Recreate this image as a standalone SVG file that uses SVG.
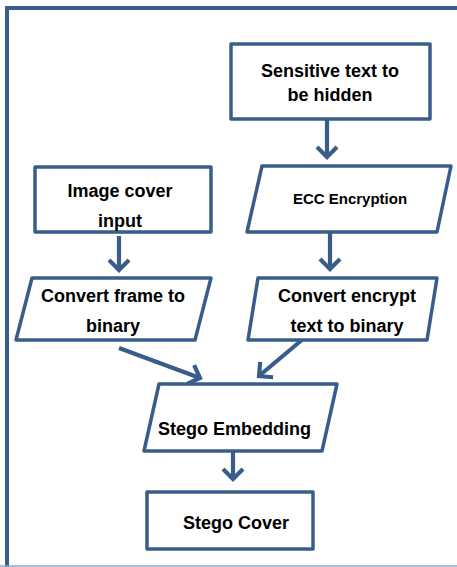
<svg xmlns="http://www.w3.org/2000/svg" width="457" height="567" viewBox="0 0 457 567">
<defs>
<style>
.box{fill:#fff;stroke:#385D8A;stroke-width:3.5;stroke-linejoin:round}
.t{font-family:"Liberation Sans",Arial,sans-serif;font-weight:bold;font-size:18px;fill:#000;text-anchor:middle}
.s{font-size:15px}
.c{fill:none;stroke:#385D8A;stroke-width:4.2;marker-end:url(#ah)}
</style>
<marker id="ah" viewBox="-14 -13 17 26" refX="0" refY="0" markerWidth="17" markerHeight="26" markerUnits="userSpaceOnUse" orient="auto">
<path d="M-10,-10 L0,0 L-10,10" fill="none" stroke="#385D8A" stroke-width="4.2"/>
</marker>
</defs>
<rect width="457" height="567" fill="#fff"/>
<g id="frame">
<path d="M7,567 V8 H460" fill="none" stroke="#385D8A" stroke-width="4"/>
<line x1="0" y1="566" x2="457" y2="566" stroke="#8EA9CC" stroke-width="1.5"/>
</g>
<g id="connectors">
<line class="c" x1="327" y1="120" x2="327" y2="157"/>
<line class="c" x1="330" y1="232" x2="330" y2="269"/>
<line class="c" x1="119" y1="236" x2="119" y2="270"/>
<line class="c" x1="119" y1="348" x2="200" y2="378"/>
<line class="c" x1="303" y1="339" x2="259" y2="376"/>
<line class="c" x1="233" y1="451" x2="233" y2="479"/>
</g>
<g id="sensitive">
<rect class="box" x="231" y="44" width="199" height="75"/>
<text class="t" x="330" y="77">Sensitive text to</text>
<text class="t" x="330" y="101">be hidden</text>
</g>
<g id="ecc">
<polygon class="box" points="262,166 451,166 437,232 247,232"/>
<text class="t s" x="350" y="204">ECC Encryption</text>
</g>
<g id="image">
<rect class="box" x="35" y="167" width="176" height="65"/>
<text class="t" x="120" y="197">Image cover</text>
<text class="t" x="120" y="227">input</text>
</g>
<g id="frame2bin">
<polygon class="box" points="32,278 211,278 195,340 16,340"/>
<text class="t" x="113" y="302">Convert frame to</text>
<text class="t" x="113" y="332">binary</text>
</g>
<g id="enc2bin">
<polygon class="box" points="258,278 437,278 427,340 248,340"/>
<text class="t" x="347" y="302">Convert encrypt</text>
<text class="t" x="347" y="332">text to binary</text>
</g>
<g id="embed">
<polygon class="box" points="159,384 337,384 322,451 144,451"/>
<text class="t" x="234.5" y="435">Stego Embedding</text>
</g>
<g id="cover">
<rect class="box" x="147" y="492" width="166" height="57"/>
<text class="t" x="236" y="529">Stego Cover</text>
</g>
</svg>
